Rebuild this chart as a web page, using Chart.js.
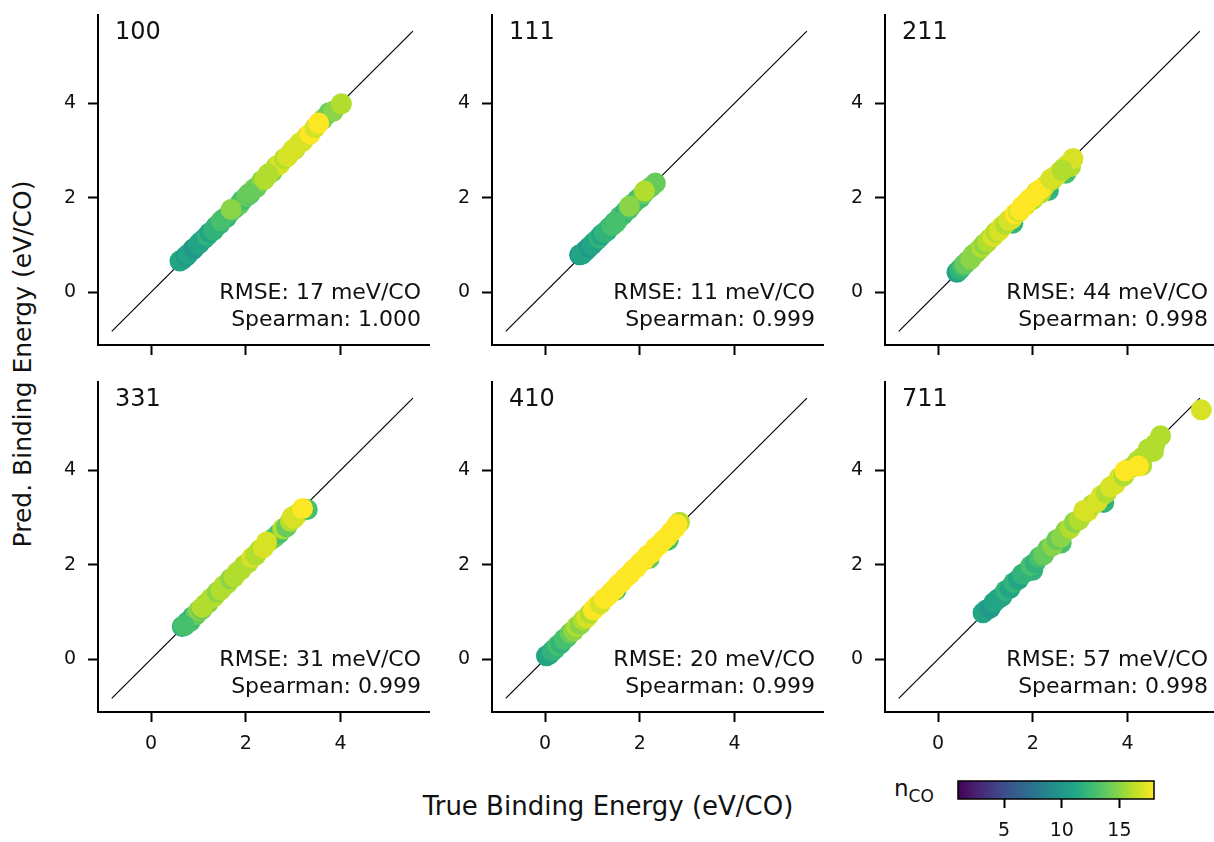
<!DOCTYPE html>
<html>
<head>
<meta charset="utf-8">
<script src="https://cdn.jsdelivr.net/npm/chart.js@4/dist/chart.umd.min.js"></script>
<style>
  html, body { margin: 0; padding: 0; background: #fff; overflow: hidden; }
  #fig { position: relative; width: 1214px; height: 842px; font-family: "DejaVu Sans", sans-serif; color: #111; }
  #fig canvas { position: absolute; }
  .lbl { position: absolute; white-space: nowrap; line-height: 1; }
  #ylab { left: 22px; top: 364px; font-size: 25px; transform: translate(-50%, -50%) rotate(-90deg); }
  #xlab { left: 608px; top: 806px; font-size: 26px; transform: translate(-50%, -50%); }
  #clab { left: 894px; top: 777px; font-size: 23px; }
  #clab span { font-size: 17px; position: relative; top: 6px; }
</style>
</head>
<body>
<div id="fig">
  <div class="lbl" id="ylab">Pred. Binding Energy (eV/CO)</div>
  <div class="lbl" id="xlab">True Binding Energy (eV/CO)</div>
  <div class="lbl" id="clab">n<span>CO</span></div>
</div>
<script>
// Surface facets and their fit statistics
const facets = ['100', '111', '211', '331', '410', '711'];
const rmseMeV = [17, 11, 44, 31, 20, 57];
const spearman = ['1.000', '0.999', '0.998', '0.999', '0.999', '0.998'];

// Shared axis settings (eV/CO)
const axisRange = [-1.12, 5.87];
const axisTicks = [0, 2, 4];
const parityLine = [-0.83, 5.53];

// Colour scale: number of adsorbed CO
const ncoRange = [1, 18];
const colorbarTicks = [5, 10, 15];

// (100)
const true100 = [0.61,0.66,0.74,0.78,0.87,0.91,1.00,1.04,1.13,1.19,1.24,1.32,1.37,1.45,1.53,1.59,1.67,1.76,1.86,1.92,2.02,2.08,2.18,2.23,2.34,2.40,2.50,2.56,2.65,2.71,2.82,2.88,2.98,3.04,3.14,3.20,3.30,3.36,3.46,3.63,3.76,3.85,1.48,1.69,2.07,2.47,3.01,3.54,4.02];
const pred100 = [0.66,0.69,0.76,0.80,0.89,0.93,1.01,1.06,1.14,1.20,1.26,1.31,1.39,1.44,1.55,1.58,1.69,1.77,1.85,1.94,2.03,2.07,2.19,2.22,2.36,2.39,2.51,2.55,2.67,2.70,2.83,2.87,2.99,3.03,3.16,3.19,3.31,3.35,3.48,3.66,3.80,3.83,1.51,1.75,2.09,2.50,3.03,3.58,3.99];
const nco100  = [11,11,10,11,11,10,11,11,11,12,11,12,12,12,13,12,13,13,14,13,14,13,15,14,15,16,16,15,16,17,16,17,17,16,17,17,17,18,17,15,14,15,13,15,14,16,17,18,16];

// (111)
const true111 = [0.73,0.78,0.84,0.88,0.93,0.99,1.03,1.09,1.14,1.19,1.25,1.31,1.36,1.42,1.47,1.53,1.58,1.64,1.70,1.76,1.82,1.88,1.95,2.01,2.08,2.16,2.24,2.33,1.49,1.78,2.10];
const pred111 = [0.79,0.80,0.86,0.90,0.95,1.00,1.05,1.10,1.15,1.21,1.26,1.30,1.37,1.41,1.48,1.52,1.60,1.63,1.71,1.75,1.83,1.89,1.96,2.00,2.09,2.17,2.23,2.31,1.47,1.82,2.14];
const nco111  = [10,11,11,11,10,11,11,11,12,11,12,12,12,13,12,13,13,13,12,13,13,14,13,13,14,14,14,14,13,15,16];

// (211)
const true211 = [1.58,2.33,2.70,0.40,0.46,0.52,0.57,0.63,0.69,0.74,0.80,0.86,0.92,0.98,1.04,1.10,1.16,1.22,1.29,1.35,1.42,1.49,1.56,1.63,1.70,1.78,1.85,1.93,2.00,2.08,2.17,2.25,2.41,2.50,2.58,2.66,2.74,2.80,2.85,1.74,1.86,2.02,2.15,2.38,2.62];
const pred211 = [1.46,2.15,2.52,0.42,0.48,0.55,0.60,0.66,0.70,0.79,0.83,0.89,0.95,1.02,1.06,1.14,1.18,1.27,1.30,1.39,1.44,1.52,1.55,1.66,1.70,1.82,1.84,1.97,1.96,2.12,2.10,2.24,2.38,2.47,2.55,2.63,2.70,2.66,2.83,1.74,1.89,2.03,2.17,2.40,2.58];
const nco211  = [12,12,13,11,12,13,14,14,15,15,15,15,16,15,16,16,17,16,17,17,16,17,17,18,17,18,17,18,16,17,16,17,16,17,17,16,17,16,17,18,18,18,18,17,16];

// (331)
const true331 = [0.66,0.71,0.77,0.83,0.88,0.95,1.01,1.07,1.14,1.20,1.27,1.33,1.40,1.47,1.54,1.61,1.68,1.75,1.82,1.90,1.97,2.05,2.13,2.21,2.29,2.37,2.45,2.53,2.61,2.70,2.78,2.86,2.94,3.02,3.10,3.30,0.70,1.08,2.44,2.98,3.20];
const pred331 = [0.69,0.71,0.79,0.80,0.90,0.94,1.03,1.05,1.16,1.18,1.29,1.32,1.42,1.46,1.56,1.60,1.70,1.74,1.84,1.89,1.99,2.04,2.15,2.20,2.31,2.36,2.47,2.52,2.58,2.66,2.76,2.80,2.92,2.98,3.08,3.17,0.71,1.09,2.48,3.01,3.19];
const nco331  = [12,11,12,13,12,14,15,14,16,15,16,16,15,16,16,16,15,16,16,16,16,16,17,16,16,17,17,16,14,13,16,14,16,17,17,13,13,16,17,17,18];

// (410)
const true410 = [1.50,2.20,2.60,0.03,0.09,0.15,0.21,0.27,0.33,0.40,0.46,0.53,0.60,0.67,0.74,0.81,0.88,0.95,1.02,1.10,1.17,1.25,1.32,1.40,1.47,1.55,1.62,1.70,1.78,1.85,1.93,2.01,2.09,2.17,2.25,2.33,2.41,2.50,2.58,2.66,2.75,2.84,2.79];
const pred410 = [1.46,2.13,2.52,0.07,0.10,0.17,0.22,0.29,0.33,0.42,0.46,0.55,0.60,0.69,0.73,0.83,0.88,0.97,1.04,1.13,1.17,1.28,1.33,1.42,1.48,1.58,1.63,1.73,1.79,1.88,1.94,2.04,2.10,2.20,2.25,2.36,2.42,2.52,2.59,2.69,2.78,2.90,2.85];
const nco410  = [13,14,13,11,11,12,12,13,12,13,13,14,15,16,15,16,17,16,18,18,17,18,18,18,18,18,18,18,18,18,18,18,18,18,18,18,18,18,18,18,18,16,18];

// (711)
const true711 = [2.00,2.60,3.50,4.30,4.55,0.95,1.02,1.10,1.18,1.26,1.35,1.43,1.52,1.60,1.70,1.78,1.88,1.96,2.05,2.14,2.23,2.32,2.42,2.51,2.60,2.70,2.79,2.88,2.98,3.07,3.17,3.26,3.36,3.45,3.55,3.64,3.74,3.83,3.92,4.02,4.12,4.22,4.32,4.44,4.58,4.70,3.08,3.95,4.23,5.56];
const pred711 = [1.88,2.46,3.32,4.10,4.40,0.98,1.04,1.08,1.20,1.27,1.33,1.45,1.50,1.62,1.69,1.80,1.86,1.98,2.04,2.16,2.21,2.34,2.40,2.53,2.58,2.72,2.77,2.90,2.95,3.08,3.14,3.27,3.33,3.46,3.52,3.65,3.71,3.85,3.88,4.02,4.08,4.20,4.28,4.45,4.55,4.73,3.15,3.99,4.09,5.28];
const nco711  = [12,13,12,16,16,11,11,10,11,11,11,12,11,12,11,12,12,13,12,13,14,14,15,14,15,15,16,15,16,16,17,16,17,17,16,17,17,17,16,17,16,16,16,16,16,16,17,18,18,17];

const panelData = [
  [true100, pred100, nco100],
  [true111, pred111, nco111],
  [true211, pred211, nco211],
  [true331, pred331, nco331],
  [true410, pred410, nco410],
  [true711, pred711, nco711]
];

// viridis colour map
const VIRIDIS = ['#440154','#482475','#414487','#355f8d','#2a788e','#21918c','#22a884','#44bf70','#7ad151','#bddf26','#fde725'];
function hexToRgb(h) { return [1, 3, 5].map(i => parseInt(h.slice(i, i + 2), 16)); }
const VIRIDIS_RGB = VIRIDIS.map(hexToRgb);
function viridis(t) {
  t = Math.min(1, Math.max(0, t));
  const s = t * (VIRIDIS_RGB.length - 1);
  const i = Math.min(VIRIDIS_RGB.length - 2, Math.floor(s));
  const f = s - i;
  const a = VIRIDIS_RGB[i], b = VIRIDIS_RGB[i + 1];
  const c = a.map((v, k) => Math.round(v + (b[k] - v) * f));
  return `rgb(${c[0]},${c[1]},${c[2]})`;
}
function ncoColor(n) { return viridis((n - ncoRange[0]) / (ncoRange[1] - ncoRange[0])); }

const TICK_FONT = { family: '"DejaVu Sans", sans-serif', size: 19 };
Chart.defaults.font.family = TICK_FONT.family;
Chart.defaults.color = '#111';

const fig = document.getElementById('fig');
const COL_LEFT = [98, 492, 885];
const ROW_TOP = [15, 382];
const W = 331, H = 330;
const PADL = 70, PADT = 14, PADR = 14, PADB = 50;

function panelTextPlugin(i) {
  return {
    id: 'panelText' + i,
    afterDatasetsDraw(chart) {
      const { ctx, chartArea: a } = chart;
      ctx.save();
      ctx.fillStyle = '#111';
      ctx.textBaseline = 'alphabetic';
      ctx.font = '24px "DejaVu Sans", sans-serif';
      ctx.textAlign = 'left';
      ctx.fillText(facets[i], a.left + 17, a.top + 24);
      ctx.font = '22px "DejaVu Sans", sans-serif';
      ctx.textAlign = 'right';
      ctx.fillText('RMSE: ' + rmseMeV[i] + ' meV/CO', a.right - 8, a.bottom - 46);
      ctx.fillText('Spearman: ' + spearman[i], a.right - 8, a.bottom - 19);
      ctx.restore();
    }
  };
}

function axisOptions(showLabels, isX) {
  return {
    type: 'linear',
    min: axisRange[0],
    max: axisRange[1],
    afterBuildTicks: s => { s.ticks = axisTicks.map(v => ({ value: v })); },
    afterFit: s => {
      if (isX) { s.height = PADB; s.paddingLeft = 0; s.paddingRight = 0; }
      else { s.width = PADL; s.paddingTop = 0; s.paddingBottom = 0; }
    },
    grid: { drawOnChartArea: false, drawTicks: true, tickLength: 10, tickColor: '#000', tickWidth: 2 },
    border: { display: true, color: '#000', width: 2 },
    ticks: { display: showLabels, padding: isX ? 11 : 12, font: TICK_FONT, color: '#111', maxRotation: 0 }
  };
}

panelData.forEach(([xs, ys, ns], i) => {
  const col = i % 3, row = Math.floor(i / 3);
  const canvas = document.createElement('canvas');
  canvas.width = PADL + W + PADR;
  canvas.height = PADT + H + PADB;
  canvas.style.left = (COL_LEFT[col] - PADL) + 'px';
  canvas.style.top = (ROW_TOP[row] - PADT) + 'px';
  fig.appendChild(canvas);

  const points = xs.map((x, k) => ({ x: x, y: ys[k] }));
  const colors = ns.map(ncoColor);

  new Chart(canvas, {
    type: 'scatter',
    data: {
      datasets: [
        {
          data: points,
          backgroundColor: colors,
          pointBackgroundColor: colors,
          pointBorderWidth: 0,
          borderWidth: 0,
          pointRadius: 10.5,
          order: 0,
          clip: false
        },
        {
          type: 'line',
          data: parityLine.map(v => ({ x: v, y: v })),
          borderColor: '#000',
          borderWidth: 1.2,
          pointRadius: 0,
          fill: false,
          tension: 0,
          order: 1
        }
      ]
    },
    options: {
      responsive: false,
      animation: false,
      events: [],
      devicePixelRatio: 1,
      layout: { padding: { left: 0, top: PADT, right: PADR, bottom: 0 } },
      plugins: { legend: { display: false }, tooltip: { enabled: false } },
      scales: {
        x: axisOptions(row === 1, true),
        y: axisOptions(true, false)
      }
    },
    plugins: [panelTextPlugin(i)]
  });
});

// Colour bar for n_CO
(function () {
  const CL = 20, CR = 20, CT = 10, CB = 42, CW = 196, CH = 18;
  const canvas = document.createElement('canvas');
  canvas.width = CL + CW + CR;
  canvas.height = CT + CH + CB;
  canvas.style.left = (958 - CL) + 'px';
  canvas.style.top = (781 - CT) + 'px';
  fig.appendChild(canvas);

  const colorbarFill = {
    id: 'colorbarFill',
    beforeDatasetsDraw(chart) {
      const { ctx, chartArea: a } = chart;
      const g = ctx.createLinearGradient(a.left, 0, a.right, 0);
      VIRIDIS.forEach((c, k) => g.addColorStop(k / (VIRIDIS.length - 1), c));
      ctx.save();
      ctx.fillStyle = g;
      ctx.fillRect(a.left, a.top, a.right - a.left, a.bottom - a.top);
      ctx.strokeStyle = '#000';
      ctx.lineWidth = 1.5;
      ctx.strokeRect(a.left, a.top, a.right - a.left, a.bottom - a.top);
      ctx.restore();
    }
  };

  new Chart(canvas, {
    type: 'scatter',
    data: { datasets: [{ data: [] }] },
    options: {
      responsive: false,
      animation: false,
      events: [],
      devicePixelRatio: 1,
      layout: { padding: { left: CL, top: CT, right: CR, bottom: 0 } },
      plugins: { legend: { display: false }, tooltip: { enabled: false } },
      scales: {
        x: {
          type: 'linear',
          min: ncoRange[0],
          max: ncoRange[1],
          afterBuildTicks: s => { s.ticks = colorbarTicks.map(v => ({ value: v })); },
          afterFit: s => { s.height = CB; s.paddingLeft = 0; s.paddingRight = 0; },
          grid: { drawOnChartArea: false, drawTicks: true, tickLength: 9, tickColor: '#000', tickWidth: 2 },
          border: { display: false },
          ticks: { padding: 12, font: TICK_FONT, color: '#111', maxRotation: 0 }
        },
        y: { display: false, min: 0, max: 1 }
      }
    },
    plugins: [colorbarFill]
  });
})();
</script>
</body>
</html>
